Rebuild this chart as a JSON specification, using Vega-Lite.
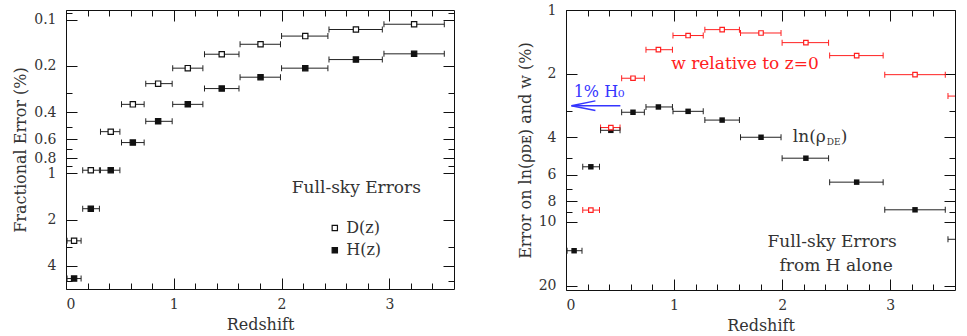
{
  "$schema": "https://vega.github.io/schema/vega-lite/v6.json",
  "background": "white",
  "padding": {"left": 12, "top": 2, "right": 2, "bottom": 2},
  "spacing": 61,
  "config": {
    "font": "DejaVu Serif",
    "view": {"stroke": "#111", "strokeWidth": 1},
    "axis": {
      "domain": false, "grid": false, "tickColor": "#111", "tickWidth": 1,
      "labelFont": "DejaVu Serif", "labelFontSize": 14, "labelColor": "#333",
      "titleFont": "DejaVu Serif", "titleFontSize": 16, "titleFontWeight": "normal", "titleColor": "#333",
      "labelOverlap": false, "labelBound": false
    }
  },
  "datasets": {
    "left": [
      {"s": "D", "z": 0.075, "lo": 0.01, "hi": 0.14, "e": 2.75},
      {"s": "D", "z": 0.23, "lo": 0.155, "hi": 0.31, "e": 0.955},
      {"s": "D", "z": 0.415, "lo": 0.32, "hi": 0.5, "e": 0.536},
      {"s": "D", "z": 0.62, "lo": 0.515, "hi": 0.725, "e": 0.356},
      {"s": "D", "z": 0.855, "lo": 0.74, "hi": 0.985, "e": 0.261},
      {"s": "D", "z": 1.13, "lo": 0.99, "hi": 1.27, "e": 0.207},
      {"s": "D", "z": 1.445, "lo": 1.285, "hi": 1.605, "e": 0.168},
      {"s": "D", "z": 1.805, "lo": 1.615, "hi": 1.99, "e": 0.1447},
      {"s": "D", "z": 2.22, "lo": 2.0, "hi": 2.43, "e": 0.128},
      {"s": "D", "z": 2.69, "lo": 2.44, "hi": 2.935, "e": 0.116},
      {"s": "D", "z": 3.23, "lo": 2.95, "hi": 3.51, "e": 0.1072},
      {"s": "H", "z": 0.075, "lo": 0.01, "hi": 0.14, "e": 4.84},
      {"s": "H", "z": 0.23, "lo": 0.155, "hi": 0.31, "e": 1.7},
      {"s": "H", "z": 0.415, "lo": 0.32, "hi": 0.5, "e": 0.955},
      {"s": "H", "z": 0.62, "lo": 0.515, "hi": 0.725, "e": 0.631},
      {"s": "H", "z": 0.855, "lo": 0.74, "hi": 0.985, "e": 0.459},
      {"s": "H", "z": 1.13, "lo": 0.99, "hi": 1.27, "e": 0.356},
      {"s": "H", "z": 1.445, "lo": 1.285, "hi": 1.605, "e": 0.281},
      {"s": "H", "z": 1.805, "lo": 1.615, "hi": 1.99, "e": 0.237},
      {"s": "H", "z": 2.22, "lo": 2.0, "hi": 2.43, "e": 0.207},
      {"s": "H", "z": 2.69, "lo": 2.44, "hi": 2.935, "e": 0.182},
      {"s": "H", "z": 3.23, "lo": 2.95, "hi": 3.51, "e": 0.167}
    ],
    "right": [
      {"s": "w", "z": 0.23, "lo": 0.155, "hi": 0.31, "e": 8.81},
      {"s": "w", "z": 0.415, "lo": 0.32, "hi": 0.5, "e": 3.59},
      {"s": "w", "z": 0.62, "lo": 0.515, "hi": 0.725, "e": 2.1},
      {"s": "w", "z": 0.855, "lo": 0.74, "hi": 0.985, "e": 1.54},
      {"s": "w", "z": 1.13, "lo": 0.99, "hi": 1.27, "e": 1.32},
      {"s": "w", "z": 1.445, "lo": 1.285, "hi": 1.605, "e": 1.238},
      {"s": "w", "z": 1.805, "lo": 1.615, "hi": 1.99, "e": 1.284},
      {"s": "w", "z": 2.22, "lo": 2.0, "hi": 2.43, "e": 1.426},
      {"s": "w", "z": 2.69, "lo": 2.44, "hi": 2.935, "e": 1.642},
      {"s": "w", "z": 3.23, "lo": 2.95, "hi": 3.51, "e": 2.02},
      {"s": "w", "z": 3.85, "lo": 3.535, "hi": 4.2, "e": 2.55},
      {"s": "ln", "z": 0.075, "lo": 0.01, "hi": 0.148, "e": 13.7},
      {"s": "ln", "z": 0.23, "lo": 0.155, "hi": 0.31, "e": 5.5},
      {"s": "ln", "z": 0.415, "lo": 0.32, "hi": 0.5, "e": 3.7},
      {"s": "ln", "z": 0.62, "lo": 0.515, "hi": 0.725, "e": 3.04},
      {"s": "ln", "z": 0.855, "lo": 0.74, "hi": 0.985, "e": 2.87},
      {"s": "ln", "z": 1.13, "lo": 0.99, "hi": 1.27, "e": 3.01},
      {"s": "ln", "z": 1.445, "lo": 1.285, "hi": 1.605, "e": 3.31},
      {"s": "ln", "z": 1.805, "lo": 1.615, "hi": 1.99, "e": 3.99},
      {"s": "ln", "z": 2.22, "lo": 2.0, "hi": 2.43, "e": 5.01},
      {"s": "ln", "z": 2.69, "lo": 2.44, "hi": 2.935, "e": 6.5},
      {"s": "ln", "z": 3.23, "lo": 2.95, "hi": 3.51, "e": 8.78},
      {"s": "ln", "z": 3.85, "lo": 3.535, "hi": 4.2, "e": 12.1}
    ]
  },
  "hconcat": [
    {
      "width": 388, "height": 279,
      "resolve": {"axis": {"x": "independent", "y": "independent"}},
      "layer": [
        {
          "data": {"name": "left"},
          "mark": {"type": "rule", "color": "#222", "strokeWidth": 1},
          "encoding": {
            "x": {"field": "lo", "type": "quantitative", "scale": {"domain": [0, 3.6], "nice": false, "zero": false},
              "axis": {"orient": "bottom", "title": "Redshift", "titlePadding": 0,
                "values": [0, 0.2, 0.4, 0.6, 0.8, 1, 1.2, 1.4, 1.6, 1.8, 2, 2.2, 2.4, 2.6, 2.8, 3, 3.2, 3.4],
                "labelExpr": "datum.value == round(datum.value) ? format(datum.value, 'd') : ''",
                "tickSize": {"condition": {"test": "datum.value == round(datum.value)", "value": -11}, "value": -6},
                "labelPadding": 19}},
            "x2": {"field": "hi"},
            "y": {"field": "e", "type": "quantitative", "scale": {"type": "log", "domain": [0.0866, 5.66], "reverse": true, "nice": false},
              "axis": {"orient": "left", "title": "Fractional Error (%)", "titlePadding": 5,
                "values": [0.09, 0.1, 0.2, 0.3, 0.4, 0.5, 0.6, 0.7, 0.8, 0.9, 1, 2, 3, 4, 5],
                "labelExpr": "indexof([0.1,0.2,0.4,0.6,0.8], datum.value) >= 0 ? format(datum.value, '.1f') : (indexof([1,2,4], datum.value) >= 0 ? format(datum.value, 'd') : '')",
                "tickSize": {"condition": {"test": "indexof([0.1,0.2,0.4,0.6,0.8,1,2,4], datum.value) >= 0", "value": -11}, "value": -6},
                "labelPadding": 21}}
          }
        },
        {
          "data": {"name": "left"},
          "mark": {"type": "rule", "opacity": 0},
          "encoding": {
            "x": {"field": "lo", "type": "quantitative", "scale": {"domain": [0, 3.6], "nice": false, "zero": false},
              "axis": {"orient": "top", "title": null, "labels": false,
                "values": [0, 0.2, 0.4, 0.6, 0.8, 1, 1.2, 1.4, 1.6, 1.8, 2, 2.2, 2.4, 2.6, 2.8, 3, 3.2, 3.4],
                "tickSize": {"condition": {"test": "datum.value == round(datum.value)", "value": -11}, "value": -6}}},
            "x2": {"field": "hi"},
            "y": {"field": "e", "type": "quantitative", "scale": {"type": "log", "domain": [0.0866, 5.66], "reverse": true, "nice": false},
              "axis": {"orient": "right", "title": null, "labels": false,
                "values": [0.09, 0.1, 0.2, 0.3, 0.4, 0.5, 0.6, 0.7, 0.8, 0.9, 1, 2, 3, 4, 5],
                "tickSize": {"condition": {"test": "indexof([0.1,0.2,0.4,0.6,0.8,1,2,4], datum.value) >= 0", "value": -11}, "value": -6}}}
          }
        },
        {
          "data": {"name": "left"},
          "mark": {"type": "tick", "orient": "vertical", "color": "#222", "size": 6, "thickness": 1, "opacity": 1},
          "encoding": {
            "x": {"field": "lo", "type": "quantitative", "scale": {"domain": [0, 3.6], "nice": false, "zero": false}, "axis": null},
            "y": {"field": "e", "type": "quantitative", "scale": {"type": "log", "domain": [0.0866, 5.66], "reverse": true, "nice": false}, "axis": null}
          }
        },
        {
          "data": {"name": "left"},
          "mark": {"type": "tick", "orient": "vertical", "color": "#222", "size": 6, "thickness": 1, "opacity": 1},
          "encoding": {
            "x": {"field": "hi", "type": "quantitative", "scale": {"domain": [0, 3.6], "nice": false, "zero": false}, "axis": null},
            "y": {"field": "e", "type": "quantitative", "scale": {"type": "log", "domain": [0.0866, 5.66], "reverse": true, "nice": false}, "axis": null}
          }
        },
        {
          "data": {"name": "left"},
          "mark": {"type": "point", "shape": "square", "size": 28, "filled": true, "stroke": "#111", "strokeWidth": 1.2, "opacity": 1},
          "encoding": {
            "x": {"field": "z", "type": "quantitative", "scale": {"domain": [0, 3.6], "nice": false, "zero": false}, "axis": null},
            "y": {"field": "e", "type": "quantitative", "scale": {"type": "log", "domain": [0.0866, 5.66], "reverse": true, "nice": false}, "axis": null},
            "fill": {"field": "s", "type": "nominal", "scale": {"domain": ["D", "H"], "range": ["white", "#111"]}, "legend": null}
          }
        },
        {
          "data": {"values": [{"x": 2.494, "y": 2.268, "s": "D"}, {"x": 2.494, "y": 3.17, "s": "H"}]},
          "mark": {"type": "point", "shape": "square", "size": 28, "filled": true, "stroke": "#111", "strokeWidth": 1.2, "opacity": 1},
          "encoding": {
            "x": {"field": "x", "type": "quantitative", "scale": {"domain": [0, 3.6], "nice": false, "zero": false}, "axis": null},
            "y": {"field": "y", "type": "quantitative", "scale": {"type": "log", "domain": [0.0866, 5.66], "reverse": true, "nice": false}, "axis": null},
            "fill": {"field": "s", "type": "nominal", "scale": {"domain": ["D", "H"], "range": ["white", "#111"]}, "legend": null}
          }
        },
        {
          "data": {"values": [{"x": 2.6, "y": 2.268, "t": "D(z)"}, {"x": 2.6, "y": 3.17, "t": "H(z)"}]},
          "mark": {"type": "text", "align": "left", "baseline": "middle", "fontSize": 16, "color": "#333"},
          "encoding": {
            "x": {"field": "x", "type": "quantitative", "scale": {"domain": [0, 3.6], "nice": false, "zero": false}, "axis": null},
            "y": {"field": "y", "type": "quantitative", "scale": {"type": "log", "domain": [0.0866, 5.66], "reverse": true, "nice": false}, "axis": null},
            "text": {"field": "t"}
          }
        },
        {
          "data": {"values": [{"x": 2.694, "y": 1.252, "t": "Full-sky Errors"}]},
          "mark": {"type": "text", "align": "center", "baseline": "middle", "fontSize": 17, "color": "#333"},
          "encoding": {
            "x": {"field": "x", "type": "quantitative", "scale": {"domain": [0, 3.6], "nice": false, "zero": false}, "axis": null},
            "y": {"field": "y", "type": "quantitative", "scale": {"type": "log", "domain": [0.0866, 5.66], "reverse": true, "nice": false}, "axis": null},
            "text": {"field": "t"}
          }
        }
      ]
    },
    {
      "width": 389, "height": 280,
      "resolve": {"axis": {"x": "independent", "y": "independent"}},
      "layer": [
        {
          "data": {"name": "right"},
          "mark": {"type": "rule", "strokeWidth": 1, "clip": true},
          "encoding": {
            "x": {"field": "lo", "type": "quantitative", "scale": {"domain": [0, 3.6], "nice": false, "zero": false},
              "axis": {"orient": "bottom", "title": "Redshift", "titlePadding": 0,
                "values": [0, 0.2, 0.4, 0.6, 0.8, 1, 1.2, 1.4, 1.6, 1.8, 2, 2.2, 2.4, 2.6, 2.8, 3, 3.2, 3.4],
                "labelExpr": "datum.value == round(datum.value) ? format(datum.value, 'd') : ''",
                "tickSize": {"condition": {"test": "datum.value == round(datum.value)", "value": -11}, "value": -6},
                "labelPadding": 19}},
            "x2": {"field": "hi"},
            "y": {"field": "e", "type": "quantitative", "scale": {"type": "log", "domain": [1, 21], "reverse": true, "nice": false},
              "axis": {"orient": "left", "title": "Error on ln(ρᴅᴇ) and w (%)", "titlePadding": 5,
                "values": [1, 2, 3, 4, 5, 6, 7, 8, 9, 10, 20],
                "labelExpr": "indexof([1,2,4,6,8,10,20], datum.value) >= 0 ? format(datum.value, 'd') : ''",
                "tickSize": {"condition": {"test": "indexof([1,2,4,6,8,10,20], datum.value) >= 0", "value": -11}, "value": -6},
                "labelPadding": 21}},
            "color": {"field": "s", "type": "nominal", "scale": {"domain": ["ln", "w"], "range": ["#222", "#ff2020"]}, "legend": null}
          }
        },
        {
          "data": {"name": "right"},
          "mark": {"type": "rule", "opacity": 0},
          "encoding": {
            "x": {"field": "lo", "type": "quantitative", "scale": {"domain": [0, 3.6], "nice": false, "zero": false},
              "axis": {"orient": "top", "title": null, "labels": false,
                "values": [0, 0.2, 0.4, 0.6, 0.8, 1, 1.2, 1.4, 1.6, 1.8, 2, 2.2, 2.4, 2.6, 2.8, 3, 3.2, 3.4],
                "tickSize": {"condition": {"test": "datum.value == round(datum.value)", "value": -11}, "value": -6}}},
            "x2": {"field": "hi"},
            "y": {"field": "e", "type": "quantitative", "scale": {"type": "log", "domain": [1, 21], "reverse": true, "nice": false},
              "axis": {"orient": "right", "title": null, "labels": false,
                "values": [1, 2, 3, 4, 5, 6, 7, 8, 9, 10, 20],
                "tickSize": {"condition": {"test": "indexof([1,2,4,6,8,10,20], datum.value) >= 0", "value": -11}, "value": -6}}}
          }
        },
        {
          "data": {"name": "right"},
          "mark": {"type": "tick", "orient": "vertical", "size": 6, "thickness": 1, "opacity": 1, "clip": true},
          "encoding": {
            "x": {"field": "lo", "type": "quantitative", "scale": {"domain": [0, 3.6], "nice": false, "zero": false}, "axis": null},
            "y": {"field": "e", "type": "quantitative", "scale": {"type": "log", "domain": [1, 21], "reverse": true, "nice": false}, "axis": null},
            "color": {"field": "s", "type": "nominal", "scale": {"domain": ["ln", "w"], "range": ["#222", "#ff2020"]}, "legend": null}
          }
        },
        {
          "data": {"name": "right"},
          "mark": {"type": "tick", "orient": "vertical", "size": 6, "thickness": 1, "opacity": 1, "clip": true},
          "encoding": {
            "x": {"field": "hi", "type": "quantitative", "scale": {"domain": [0, 3.6], "nice": false, "zero": false}, "axis": null},
            "y": {"field": "e", "type": "quantitative", "scale": {"type": "log", "domain": [1, 21], "reverse": true, "nice": false}, "axis": null},
            "color": {"field": "s", "type": "nominal", "scale": {"domain": ["ln", "w"], "range": ["#222", "#ff2020"]}, "legend": null}
          }
        },
        {
          "data": {"name": "right"},
          "transform": [{"filter": "datum.s == 'ln'"}],
          "mark": {"type": "point", "shape": "square", "filled": true, "color": "#111", "size": 30, "opacity": 1, "clip": true},
          "encoding": {
            "x": {"field": "z", "type": "quantitative", "scale": {"domain": [0, 3.6], "nice": false, "zero": false}, "axis": null},
            "y": {"field": "e", "type": "quantitative", "scale": {"type": "log", "domain": [1, 21], "reverse": true, "nice": false}, "axis": null}
          }
        },
        {
          "data": {"name": "right"},
          "transform": [{"filter": "datum.s == 'w'"}],
          "mark": {"type": "point", "shape": "square", "filled": true, "fill": "white", "stroke": "#ff2020", "strokeWidth": 1.2, "size": 20, "opacity": 1, "clip": true},
          "encoding": {
            "x": {"field": "z", "type": "quantitative", "scale": {"domain": [0, 3.6], "nice": false, "zero": false}, "axis": null},
            "y": {"field": "e", "type": "quantitative", "scale": {"type": "log", "domain": [1, 21], "reverse": true, "nice": false}, "axis": null}
          }
        },
        {
          "data": {"values": [{"x": 0.05, "x2": 0.503, "y": 2.83}]},
          "mark": {"type": "rule", "color": "#3535ff", "strokeWidth": 1.5},
          "encoding": {
            "x": {"field": "x", "type": "quantitative", "scale": {"domain": [0, 3.6], "nice": false, "zero": false}, "axis": null},
            "x2": {"field": "x2"},
            "y": {"field": "y", "type": "quantitative", "scale": {"type": "log", "domain": [1, 21], "reverse": true, "nice": false}, "axis": null}
          }
        },
        {
          "data": {"values": [{"x": 0.05, "y": 2.83}]},
          "mark": {"type": "point", "shape": "M0,0L2,-0.4M0,0L2,0.4", "size": 576, "filled": false, "stroke": "#3535ff", "strokeWidth": 1.5, "opacity": 1},
          "encoding": {
            "x": {"field": "x", "type": "quantitative", "scale": {"domain": [0, 3.6], "nice": false, "zero": false}, "axis": null},
            "y": {"field": "y", "type": "quantitative", "scale": {"type": "log", "domain": [1, 21], "reverse": true, "nice": false}, "axis": null}
          }
        },
        {
          "data": {"values": [{"x": 0.071, "y": 2.45, "t": "1% H₀"}]},
          "mark": {"type": "text", "align": "left", "baseline": "middle", "fontSize": 16, "color": "#3535ff"},
          "encoding": {
            "x": {"field": "x", "type": "quantitative", "scale": {"domain": [0, 3.6], "nice": false, "zero": false}, "axis": null},
            "y": {"field": "y", "type": "quantitative", "scale": {"type": "log", "domain": [1, 21], "reverse": true, "nice": false}, "axis": null},
            "text": {"field": "t"}
          }
        },
        {
          "data": {"values": [{"x": 1.656, "y": 1.79, "t": "w relative to z=0"}]},
          "mark": {"type": "text", "align": "center", "baseline": "middle", "fontSize": 17, "color": "#ff2020"},
          "encoding": {
            "x": {"field": "x", "type": "quantitative", "scale": {"domain": [0, 3.6], "nice": false, "zero": false}, "axis": null},
            "y": {"field": "y", "type": "quantitative", "scale": {"type": "log", "domain": [1, 21], "reverse": true, "nice": false}, "axis": null},
            "text": {"field": "t"}
          }
        },
        {
          "data": {"values": [{"x": 2.099, "y": 3.97, "t": "ln(ρ"}]},
          "mark": {"type": "text", "align": "left", "baseline": "middle", "fontSize": 17, "color": "#333"},
          "encoding": {
            "x": {"field": "x", "type": "quantitative", "scale": {"domain": [0, 3.6], "nice": false, "zero": false}, "axis": null},
            "y": {"field": "y", "type": "quantitative", "scale": {"type": "log", "domain": [1, 21], "reverse": true, "nice": false}, "axis": null},
            "text": {"field": "t"}
          }
        },
        {
          "data": {"values": [{"x": 2.099, "y": 3.97, "t": "DE"}]},
          "mark": {"type": "text", "align": "left", "baseline": "middle", "fontSize": 9, "dx": 34, "dy": 5, "color": "#333"},
          "encoding": {
            "x": {"field": "x", "type": "quantitative", "scale": {"domain": [0, 3.6], "nice": false, "zero": false}, "axis": null},
            "y": {"field": "y", "type": "quantitative", "scale": {"type": "log", "domain": [1, 21], "reverse": true, "nice": false}, "axis": null},
            "text": {"field": "t"}
          }
        },
        {
          "data": {"values": [{"x": 2.099, "y": 3.97, "t": ")"}]},
          "mark": {"type": "text", "align": "left", "baseline": "middle", "fontSize": 17, "dx": 48, "color": "#333"},
          "encoding": {
            "x": {"field": "x", "type": "quantitative", "scale": {"domain": [0, 3.6], "nice": false, "zero": false}, "axis": null},
            "y": {"field": "y", "type": "quantitative", "scale": {"type": "log", "domain": [1, 21], "reverse": true, "nice": false}, "axis": null},
            "text": {"field": "t"}
          }
        },
        {
          "data": {"values": [{"x": 2.463, "y": 12.52, "t": "Full-sky Errors"}, {"x": 2.5, "y": 16.1, "t": "from H alone"}]},
          "mark": {"type": "text", "align": "center", "baseline": "middle", "fontSize": 17, "color": "#333"},
          "encoding": {
            "x": {"field": "x", "type": "quantitative", "scale": {"domain": [0, 3.6], "nice": false, "zero": false}, "axis": null},
            "y": {"field": "y", "type": "quantitative", "scale": {"type": "log", "domain": [1, 21], "reverse": true, "nice": false}, "axis": null},
            "text": {"field": "t"}
          }
        }
      ]
    }
  ]
}
